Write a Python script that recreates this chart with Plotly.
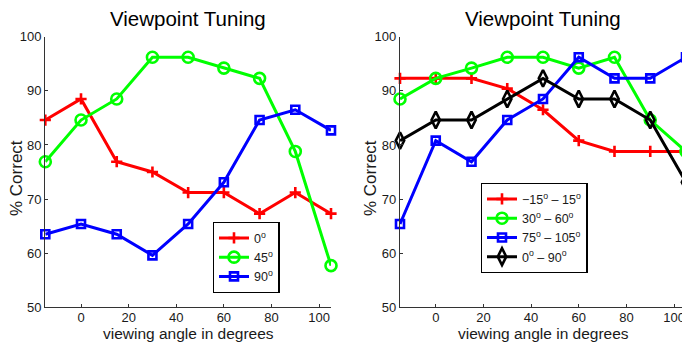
import plotly.graph_objects as go

# ---- data ----
angles = [-15, 0, 15, 30, 45, 60, 75, 90, 105]

left_0 = [84.6, 88.5, 76.9, 75.0, 71.2, 71.2, 67.3, 71.2, 67.3]
left_45 = [76.9, 84.6, 88.5, 96.2, 96.2, 94.2, 92.3, 78.8, 57.7]
left_90 = [63.5, 65.4, 63.5, 59.6, 65.4, 73.1, 84.6, 86.5, 82.7]

right_m15_15 = [92.3, 92.3, 92.3, 90.4, 86.5, 80.8, 78.8, 78.8, 78.8]
right_30_60 = [88.5, 92.3, 94.2, 96.2, 96.2, 94.2, 96.2, 84.6, 78.8]
right_75_105 = [65.4, 80.8, 76.9, 84.6, 88.5, 96.2, 92.3, 92.3, 96.2]
right_0_90 = [80.8, 84.6, 84.6, 88.5, 92.3, 88.5, 88.5, 84.6, 73.1]

left_names = ["0<sup>o</sup>", "45<sup>o</sup>", "90<sup>o</sup>"]
right_names = ["−15<sup>o</sup> – 15<sup>o</sup>", "30<sup>o</sup> – 60<sup>o</sup>",
               "75<sup>o</sup> – 105<sup>o</sup>", "0<sup>o</sup> – 90<sup>o</sup>"]
x_ticks = [0, 20, 40, 60, 80, 100]
y_ticks = [50, 60, 70, 80, 90, 100]
title_text = "Viewpoint Tuning"
x_title = "viewing angle in degrees"
y_title = "% Correct"

# page: 690x343 window; the browser's default 8px body margin offsets the figure
VIEW_W, VIEW_H = 690, 343
OFF = 8
W, H = VIEW_W - OFF, VIEW_H - OFF
FONT = "Liberation Sans, Arial, Helvetica, sans-serif"
TXT = "#1a1a1a"

styles = {
    "red": dict(color="#ff0000", symbol="cross-thin-open", size=8),
    "green": dict(color="#00ff00", symbol="circle-open", size=11),
    "blue": dict(color="#0000ff", symbol="square-open", size=8),
    "black": dict(color="#000000", symbol="diamond-tall-open", size=12),
}

fig = go.Figure()


def add(y, name, st, xa, ya, legend):
    fig.add_trace(go.Scatter(
        x=angles, y=y, name=name, mode="lines+markers",
        xaxis=xa, yaxis=ya, legend=legend, cliponaxis=False,
        line=dict(color=st["color"], width=3),
        marker=dict(symbol=st["symbol"], size=st["size"], color=st["color"],
                    line=dict(color=st["color"], width=2.6)),
    ))


add(left_0, left_names[0], styles["red"], "x", "y", "legend")
add(left_45, left_names[1], styles["green"], "x", "y", "legend")
add(left_90, left_names[2], styles["blue"], "x", "y", "legend")

add(right_m15_15, right_names[0], styles["red"], "x2", "y2", "legend2")
add(right_30_60, right_names[1], styles["green"], "x2", "y2", "legend2")
add(right_75_105, right_names[2], styles["blue"], "x2", "y2", "legend2")
add(right_0_90, right_names[3], styles["black"], "x2", "y2", "legend2")


# screen-pixel geometry -> paper fractions
def px(xp):
    return (xp - OFF) / W


def py(yp):
    return 1 - (yp - OFF) / H


ax_common = dict(
    showgrid=False, zeroline=False, showline=True, linecolor="#333333", linewidth=1.3,
    ticks="inside", ticklen=3, tickwidth=1, tickcolor="#333333", automargin=False,
    tickfont=dict(family=FONT, size=13, color=TXT), mirror=False,
)

ydom = [py(307.3), py(36.7)]
leg_common = dict(xanchor="left", yanchor="top", bgcolor="white", bordercolor="#000000",
                  borderwidth=1.3, font=dict(family=FONT, size=12.5, color=TXT),
                  tracegroupgap=0)
fig.update_layout(
    width=W, height=H,
    margin=dict(l=0, r=0, t=0, b=0, pad=0),
    paper_bgcolor="white", plot_bgcolor="white",
    font=dict(family=FONT, color=TXT),
    xaxis=dict(domain=[px(45.3), px(331)], range=[-15, 105], tickvals=x_ticks,
               anchor="y", ticklabelstandoff=-2, **ax_common),
    yaxis=dict(domain=ydom, range=[50, 100], tickvals=y_ticks, anchor="x", **ax_common),
    xaxis2=dict(domain=[px(400), px(686)], range=[-15, 105], tickvals=x_ticks,
                anchor="y2", ticklabelstandoff=-2, **ax_common),
    yaxis2=dict(domain=ydom, range=[50, 100], tickvals=y_ticks, anchor="x2", **ax_common),
    legend=dict(x=px(212.7), y=py(222), **leg_common),
    legend2=dict(x=px(480.7), y=py(183), **leg_common),
    showlegend=True,
)

annots = []
for cx, ylab_x in [((45.3 + 331) / 2, 16), ((400 + 686) / 2, 370)]:
    annots.append(dict(text=title_text, x=px(cx), y=py(18.5), xref="paper", yref="paper",
                       showarrow=False, xanchor="center", yanchor="middle",
                       font=dict(family=FONT, size=20.5, color="#000000")))
    annots.append(dict(text=x_title, x=px(cx), y=py(333.5), xref="paper", yref="paper",
                       showarrow=False, xanchor="center", yanchor="middle",
                       font=dict(family=FONT, size=15.5, color=TXT)))
    annots.append(dict(text=y_title, x=px(ylab_x), y=py(178), xref="paper", yref="paper",
                       showarrow=False, xanchor="center", yanchor="middle", textangle=-90,
                       font=dict(family=FONT, size=17, color=TXT)))
fig.update_layout(annotations=annots)

fig.write_html("out.html")
